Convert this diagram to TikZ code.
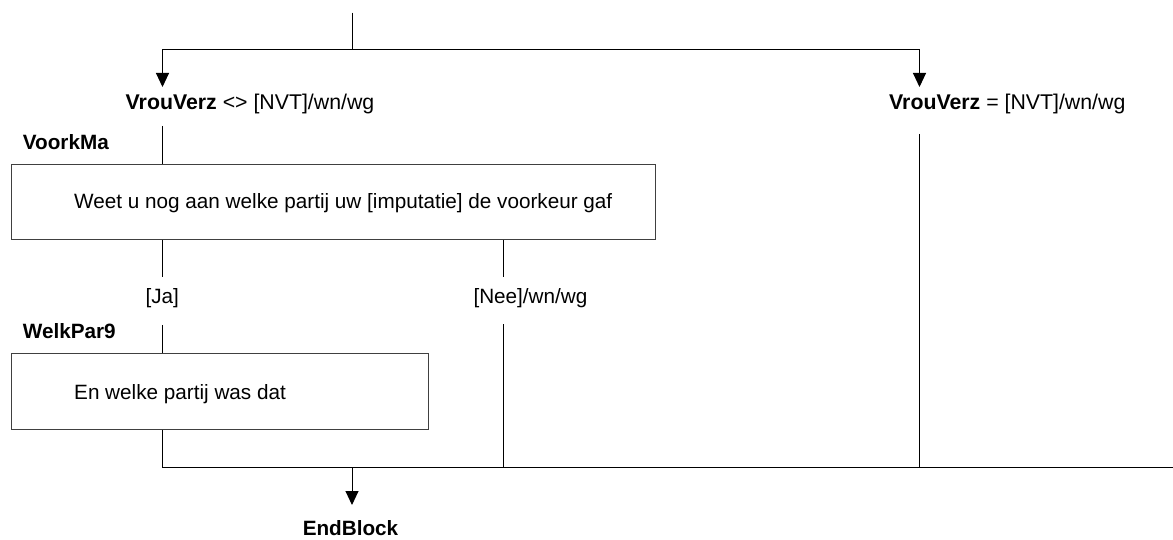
\documentclass[tikz,border=0pt]{standalone}
\usepackage{fontspec}
\setmainfont{Liberation Sans}
\usetikzlibrary{arrows.meta}
\begin{document}
\begin{tikzpicture}[x=1bp,y=-1bp,
  lbl/.style={inner sep=0pt,anchor=base west,font=\fontsize{20.7bp}{24bp}\selectfont},
  cond/.style={lbl,font=\fontsize{21.3bp}{25bp}\selectfont},
  qbox/.style={draw=black!75,line width=1bp,inner sep=0pt,anchor=north west},
  conn/.style={line width=1bp},
  arr/.style={conn,-{Triangle[width=13bp,length=14bp]}}]
\useasboundingbox (0,0) rectangle (1173,540);
% coordinates
\coordinate (top) at (352,12.7);
\coordinate (split) at (352,50);
\coordinate (tipL) at (162.5,87);
\coordinate (tipR) at (919.5,87);
\coordinate (condLbot) at (162.5,126);
\coordinate (condRbot) at (919.5,134);
\coordinate (jaTop) at (162.5,276.7);
\coordinate (jaBot) at (162.5,325);
\coordinate (neeTop) at (503.3,276.7);
\coordinate (neeBot) at (503.3,324.5);
\coordinate (join) at (162.5,467.3);
\coordinate (rightEnd) at (1173,467.3);
\coordinate (mergeTop) at (352,467.3);
\coordinate (endTip) at (352,505);
% labels
\node[cond] (condL) at (125.5,110) {\textbf{VrouVerz} <> [NVT]/wn/wg};
\node[cond] (condR) at (889,110) {\textbf{VrouVerz} = [NVT]/wn/wg};
\node[lbl] (nameA) at (22.7,150) {\textbf{VoorkMa}};
\node[qbox, minimum width=644bp, minimum height=75.3bp] (boxA) at (11,164) {};
\node[lbl] (textA) at (74,209) {Weet u nog aan welke partij uw [imputatie] de voorkeur gaf};
\node[lbl,anchor=base] (ja) at (162.3,303.5) {[Ja]};
\node[lbl] (nee) at (473.3,303.5) {[Nee]/wn/wg};
\node[lbl] (nameB) at (22.7,339) {\textbf{WelkPar9}};
\node[qbox, minimum width=417bp, minimum height=76bp] (boxB) at (11,353.3) {};
\node[lbl] (textB) at (74,399.3) {En welke partij was dat};
\node[lbl,anchor=base] (endblock) at (350.5,535.5) {\textbf{EndBlock}};
% connectors
\draw[conn] (top) -- (split);
\draw[arr] (split) -| (tipL);
\draw[arr] (split) -| (tipR);
\draw[conn] (condLbot) -- (boxA.north -| condLbot);
\draw[conn] (boxA.south -| jaTop) -- (jaTop);
\draw[conn] (boxA.south -| neeTop) -- (neeTop);
\draw[conn] (jaBot) -- (boxB.north -| jaBot);
\draw[conn] (boxB.south -| join) -- (join) -- (rightEnd);
\draw[conn] (neeBot) -- (neeBot |- join);
\draw[conn] (condRbot) -- (condRbot |- join);
\draw[arr] (mergeTop) -- (endTip);
\end{tikzpicture}
\end{document}
